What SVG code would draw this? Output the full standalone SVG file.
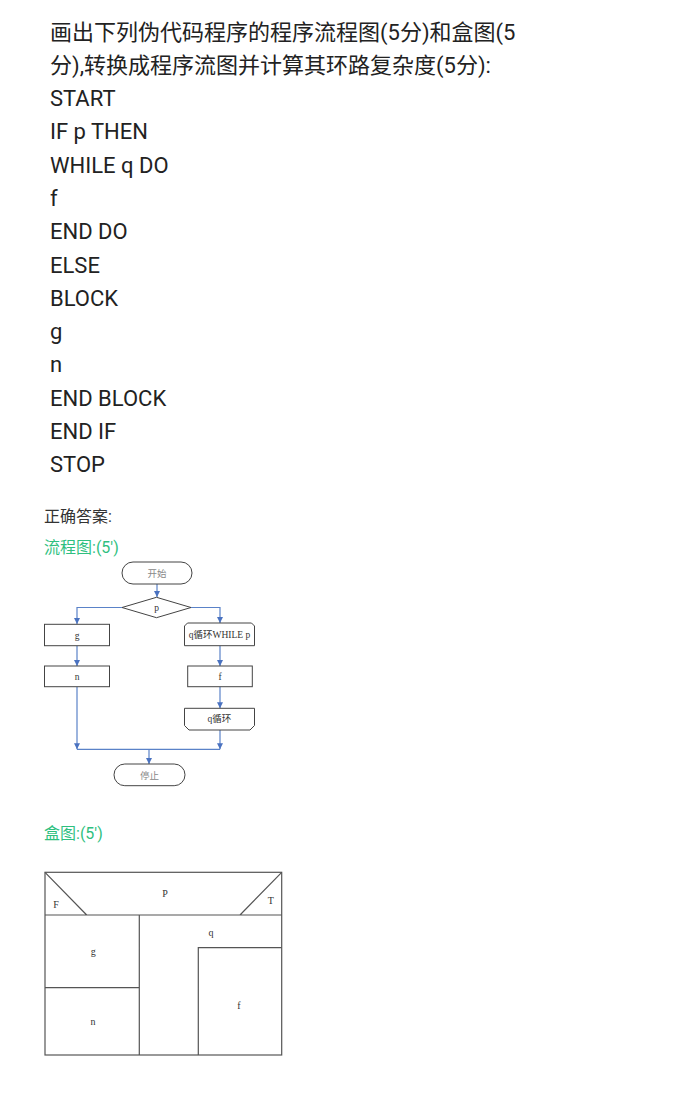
<svg xmlns="http://www.w3.org/2000/svg" width="678" height="1112" viewBox="0 0 678 1112">
<style>
.q{font-family:Roboto,"Noto Sans CJK SC",sans-serif;font-size:22px;fill:#222}
.s{font-family:Roboto,"Noto Sans CJK SC",sans-serif;font-size:16px;fill:#333}
.g{font-family:Roboto,"Noto Sans CJK SC",sans-serif;font-size:16px;fill:#2fbf7f}
.nd{fill:#fff;stroke:#444;stroke-width:1}
.t{font-family:"Liberation Serif","Noto Sans CJK SC",serif;font-size:9.5px;fill:#333;text-anchor:middle}
.tg{font-family:"Liberation Serif","Noto Sans CJK SC",serif;font-size:9.5px;fill:#888;text-anchor:middle}
.c{fill:none;stroke:#5a82c8;stroke-width:1.2}
.b{fill:none;stroke:#555;stroke-width:1.2}
.bt{font-family:"Liberation Serif",serif;font-size:10px;fill:#333;text-anchor:middle}
</style>
<defs>
<marker id="ah" markerUnits="userSpaceOnUse" markerWidth="7" markerHeight="7" refX="6" refY="3.5" orient="auto">
<path d="M0,0.5 L6,3.5 L0,6.5 Z" fill="#4a72c0"/>
</marker>
</defs>
<rect width="678" height="1112" fill="#fff"/>
<g id="question">
<text class="q" x="50" y="39.5">画出下列伪代码程序的程序流程图(5分)和盒图(5</text>
<text class="q" x="50" y="72.8">分),转换成程序流图并计算其环路复杂度(5分):</text>
<text class="q" x="50" y="106">START</text>
<text class="q" x="50" y="139.3">IF p THEN</text>
<text class="q" x="50" y="172.6">WHILE q DO</text>
<text class="q" x="50" y="206">f</text>
<text class="q" x="50" y="239.2">END DO</text>
<text class="q" x="50" y="272.5">ELSE</text>
<text class="q" x="50" y="305.8">BLOCK</text>
<text class="q" x="50" y="339">g</text>
<text class="q" x="50" y="372.3">n</text>
<text class="q" x="50" y="405.6">END BLOCK</text>
<text class="q" x="50" y="439">END IF</text>
<text class="q" x="50" y="472.2">STOP</text>
</g>
<g id="answer-labels">
<text class="s" x="44" y="522">正确答案:</text>
<text class="g" x="44" y="553">流程图:(5′)</text>
<text class="g" x="44" y="839">盒图:(5′)</text>
</g>
<g id="connectors">
<path class="c" d="M157,584 V597" marker-end="url(#ah)"/>
<path class="c" d="M122,607.5 H77 V624" marker-end="url(#ah)"/>
<path class="c" d="M191,607.5 H220 V623" marker-end="url(#ah)"/>
<path class="c" d="M77,645.7 V666" marker-end="url(#ah)"/>
<path class="c" d="M220,645.7 V666" marker-end="url(#ah)"/>
<path class="c" d="M220,686.7 V708.3" marker-end="url(#ah)"/>
<path class="c" d="M77,686.7 V749.3" marker-end="url(#ah)"/>
<path class="c" d="M220,730 V749.3" marker-end="url(#ah)"/>
<path class="c" d="M77,749.3 H220"/>
<path class="c" d="M149,749.3 V764" marker-end="url(#ah)"/>
</g>
<g id="start">
<rect class="nd" x="122" y="562" width="70" height="22" rx="11"/>
<text class="tg" x="157" y="576.5">开始</text>
</g>
<g id="decision-p">
<path class="nd" d="M122,607.5 L156.5,597.3 L191,607.5 L156.5,617.7 Z"/>
<text class="t" x="156.5" y="611">p</text>
</g>
<g id="box-g">
<rect class="nd" x="44.5" y="624.3" width="65" height="21.4"/>
<text class="t" x="77" y="638.5">g</text>
</g>
<g id="loop-start">
<path class="nd" d="M187.5,623 H251.5 L254.5,626 V645.7 H184.5 V626 Z"/>
<text class="t" x="219.5" y="638">q循环WHILE p</text>
</g>
<g id="box-n">
<rect class="nd" x="44.5" y="666" width="65" height="20.7"/>
<text class="t" x="77" y="680">n</text>
</g>
<g id="box-f">
<rect class="nd" x="187.7" y="666" width="64.6" height="20.7"/>
<text class="t" x="220" y="680">f</text>
</g>
<g id="loop-end">
<path class="nd" d="M184.5,708.3 H254.5 V725.5 L250,730 H189 L184.5,725.5 Z"/>
<text class="t" x="219.5" y="722">q循环</text>
</g>
<g id="stop">
<rect class="nd" x="114" y="764" width="71" height="21.7" rx="10.8"/>
<text class="tg" x="149.5" y="778.5">停止</text>
</g>
<g id="box-chart">
<rect class="b" x="45" y="872.3" width="236.7" height="182.7"/>
<path class="b" d="M45,915 H281.7 M45,872.3 L86.7,915 M281.7,872.3 L240,915 M139.3,915 V1055 M45,987.7 H139.3 M198.3,1055 V947.7 H281.7"/>
<text class="bt" x="165" y="896.5">P</text>
<text class="bt" x="56" y="907.5">F</text>
<text class="bt" x="270.7" y="904">T</text>
<text class="bt" x="93.3" y="955">g</text>
<text class="bt" x="93" y="1025">n</text>
<text class="bt" x="211" y="936">q</text>
<text class="bt" x="239" y="1009">f</text>
</g>
</svg>
